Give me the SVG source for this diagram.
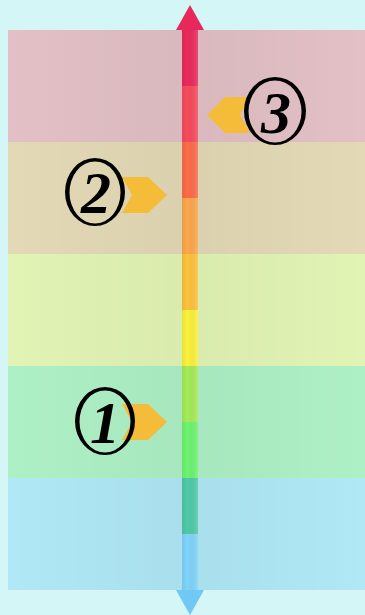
<svg xmlns="http://www.w3.org/2000/svg" width="365" height="615" viewBox="0 0 365 615">
  <defs>
    <linearGradient id="bandShade" x1="8" y1="0" x2="365" y2="0" gradientUnits="userSpaceOnUse">
      <stop offset="0" stop-color="#000" stop-opacity="0"/>
      <stop offset="0.5" stop-color="#000" stop-opacity="0.04"/>
      <stop offset="1" stop-color="#000" stop-opacity="0"/>
    </linearGradient>
    <linearGradient id="barShade" x1="0" y1="0" x2="1" y2="0">
      <stop offset="0" stop-color="#000" stop-opacity="0.07"/>
      <stop offset="0.35" stop-color="#000" stop-opacity="0"/>
      <stop offset="1" stop-color="#fff" stop-opacity="0.15"/>
    </linearGradient>
    <style>
      .chev { fill: #f4bc38; }
      .ring { fill: #000; fill-rule: evenodd; }
      .num { font-family: "Liberation Serif", "DejaVu Serif", serif; font-style: italic; font-weight: bold; font-size: 60px; fill: #000; text-anchor: middle; }
    </style>
  </defs>

  <rect x="0" y="0" width="365" height="615" fill="#d4f6f6"/>

  <g id="bands">
    <rect x="8" y="30" width="357" height="112" fill="#e2c0c5"/>
    <rect x="8" y="142" width="357" height="112" fill="#e3d9b6"/>
    <rect x="8" y="254" width="357" height="112" fill="#e2f4b4"/>
    <rect x="8" y="366" width="357" height="112" fill="#aef0c6"/>
    <rect x="8" y="478" width="357" height="112" fill="#b0e8f6"/>
    <rect x="8" y="30" width="357" height="560" fill="url(#bandShade)"/>
  </g>

  <g id="scale-bar">
    <polygon points="190,5 204,30 176,30" fill="#e8285a"/>
    <polygon points="176,590 204,590 190,615" fill="#70c8f4"/>
    <rect x="182" y="30" width="16" height="56" fill="#ea2a5a"/>
    <rect x="182" y="86" width="16" height="56" fill="#f64c5c"/>
    <rect x="182" y="142" width="16" height="56" fill="#fc6c4a"/>
    <rect x="182" y="198" width="16" height="56" fill="#fca84c"/>
    <rect x="182" y="254" width="16" height="56" fill="#fec23c"/>
    <rect x="182" y="310" width="16" height="56" fill="#fbf23c"/>
    <rect x="182" y="366" width="16" height="56" fill="#a6ec58"/>
    <rect x="182" y="422" width="16" height="56" fill="#6ef470"/>
    <rect x="182" y="478" width="16" height="56" fill="#50caa8"/>
    <rect x="182" y="534" width="16" height="56" fill="#80d4fa"/>
    <rect x="182" y="30" width="16" height="560" fill="url(#barShade)"/>
  </g>

  <g id="marker-3">
    <polygon class="chev" points="207,115 225,97 250,97 240,115 250,133 225,133"/>
    <path class="ring" d="M244,111 a31,34 0 1,0 62,0 a31,34 0 1,0 -62,0 Z M248.5,111.5 a26.5,31 0 1,0 53,0 a26.5,31 0 1,0 -53,0 Z"/>
    <text class="num" x="276" y="133">3</text>
  </g>

  <g id="marker-2">
    <polygon class="chev" points="122,177 148,177 167,195 148,213 122,213 132,195"/>
    <path class="ring" d="M65,192 a30,34 0 1,0 60,0 a30,34 0 1,0 -60,0 Z M69.5,192.5 a25.5,31 0 1,0 51,0 a25.5,31 0 1,0 -51,0 Z"/>
    <text class="num" x="96" y="213">2</text>
  </g>

  <g id="marker-1">
    <polygon class="chev" points="122,404 148,404 167,422 148,440 122,440 132,422"/>
    <path class="ring" d="M75,421 a30,34 0 1,0 60,0 a30,34 0 1,0 -60,0 Z M79.5,421.5 a25.5,31 0 1,0 51,0 a25.5,31 0 1,0 -51,0 Z"/>
    <text class="num" x="105" y="443">1</text>
  </g>
</svg>
